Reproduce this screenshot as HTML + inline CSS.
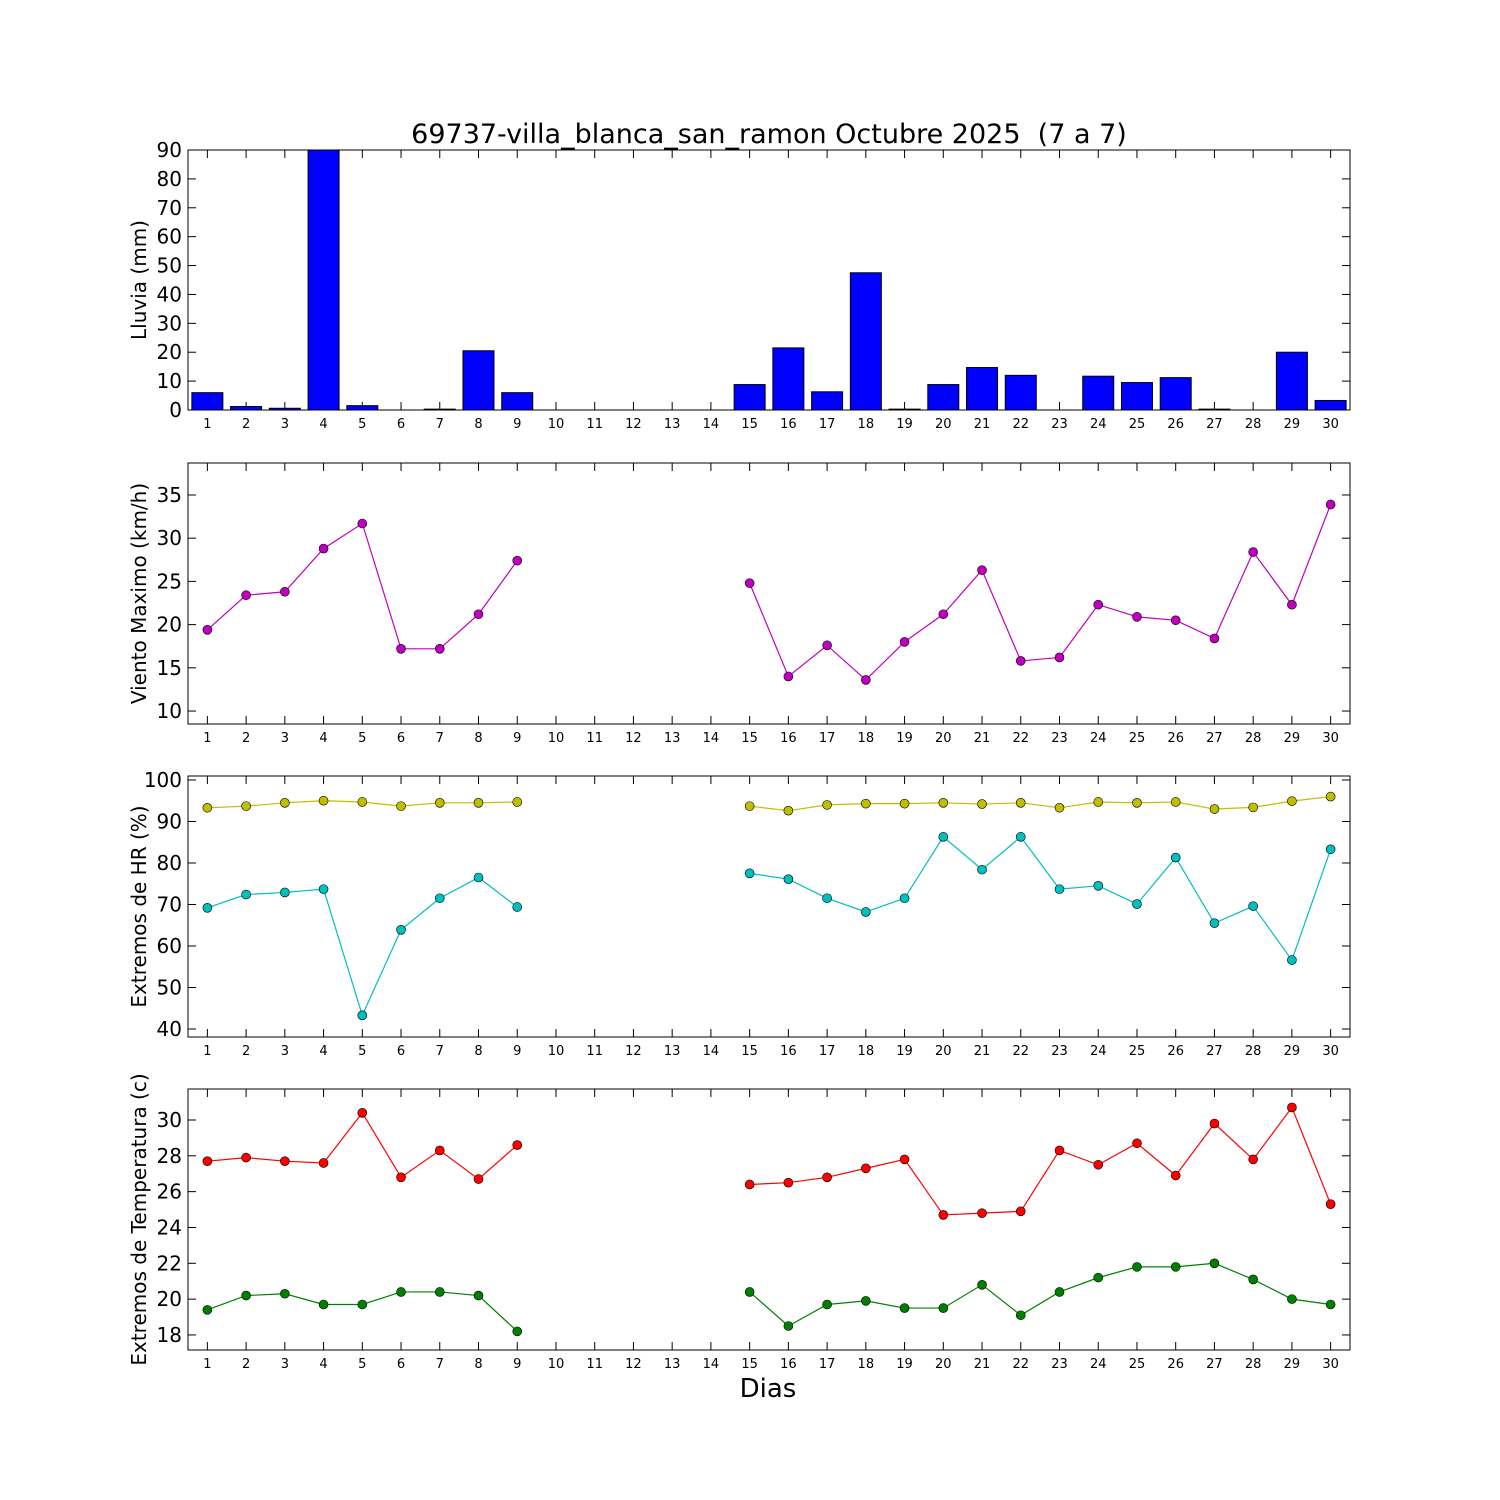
<!DOCTYPE html>
<html><head><meta charset="utf-8"><style>
html,body{margin:0;padding:0;background:#fff;}
svg{display:block;font-family:"DejaVu Sans","Liberation Sans",sans-serif;}
</style></head><body>
<svg id="chart" width="1500" height="1500" viewBox="0 0 1500 1500" xmlns="http://www.w3.org/2000/svg">
<rect width="1500" height="1500" fill="#fff"/>
<text x="769" y="143" font-size="27" text-anchor="middle" style="white-space:pre" xml:space="preserve">69737-villa_blanca_san_ramon Octubre 2025  (7 a 7)</text>
<text x="768" y="1397" font-size="26" text-anchor="middle">Dias</text>
</svg>
<script>
const days = [1,2,3,4,5,6,7,8,9,10,11,12,13,14,15,16,17,18,19,20,21,22,23,24,25,26,27,28,29,30];
const rain = [6,1.2,0.6,90,1.5,0,0.3,20.5,6,null,null,null,null,null,8.8,21.5,6.3,47.5,0.3,8.8,14.7,12,0,11.7,9.5,11.2,0.3,0,20,3.3];
const wind = [19.4,23.4,23.8,28.8,31.7,17.2,17.2,21.2,27.4,null,null,null,null,null,24.8,14,17.6,13.6,18,21.2,26.3,15.8,16.2,22.3,20.9,20.5,18.4,28.4,22.3,33.9];
const hrMax = [93.3,93.7,94.5,95,94.7,93.7,94.5,94.5,94.7,null,null,null,null,null,93.7,92.6,94,94.3,94.3,94.5,94.2,94.5,93.3,94.7,94.5,94.7,93,93.4,94.9,96];
const hrMin = [69.2,72.4,72.9,73.7,43.3,63.9,71.5,76.5,69.4,null,null,null,null,null,77.5,76.1,71.5,68.2,71.5,86.3,78.4,86.3,73.7,74.5,70.1,81.3,65.5,69.6,56.6,83.3];
const tMax = [27.7,27.9,27.7,27.6,30.4,26.8,28.3,26.7,28.6,null,null,null,null,null,26.4,26.5,26.8,27.3,27.8,24.7,24.8,24.9,28.3,27.5,28.7,26.9,29.8,27.8,30.7,25.3];
const tMin = [19.4,20.2,20.3,19.7,19.7,20.4,20.4,20.2,18.2,null,null,null,null,null,20.4,18.5,19.7,19.9,19.5,19.5,20.8,19.1,20.4,21.2,21.8,21.8,22,21.1,20,19.7];
const rainTicks = [0,10,20,30,40,50,60,70,80,90];
const windTicks = [10,15,20,25,30,35];
const hrTicks = [40,50,60,70,80,90,100];
const tTicks = [18,20,22,24,26,28,30];

const NS="http://www.w3.org/2000/svg";
const svg=document.getElementById('chart');
function mk(tag,attrs,parent){const e=document.createElementNS(NS,tag);for(const k in attrs)e.setAttribute(k,attrs[k]);(parent||svg).appendChild(e);return e;}
const L=188,R=1350;
function xs(d){return L+(d-0.5)*(R-L)/30;}

function panel(name,top,bot,ymin,ymax,ticks,label){
  const g=mk('g',{});
  
  
  const ys=v=>bot-(v-ymin)*(bot-top)/(ymax-ymin);
  ticks.forEach(t=>{
    const y=ys(t);
    mk('line',{x1:L,x2:L+8,y1:y,y2:y,stroke:'#000','stroke-width':1},g);
    mk('line',{x1:R,x2:R-8,y1:y,y2:y,stroke:'#000','stroke-width':1},g);
    const tx=mk('text',{x:L-6,y:y+7,'font-size':20,'text-anchor':'end'},g);
    
    
    tx.textContent=t;
  });
  days.forEach(d=>{
    const x=xs(d);
    mk('line',{x1:x,x2:x,y1:bot,y2:bot-8,stroke:'#000','stroke-width':1},g);
    mk('line',{x1:x,x2:x,y1:top,y2:top+8,stroke:'#000','stroke-width':1},g);
    const tx=mk('text',{x:x,y:bot+18,'font-size':13,'text-anchor':'middle'},g);
    
    
    tx.textContent=d;
  });
  const yl=mk('text',{x:0,y:0,'font-size':20,'text-anchor':'middle',transform:`translate(146,${(top+bot)/2}) rotate(-90)`},g);
  
  
  yl.textContent=label;
  return {g,ys,top,bot};
}
function frame(p,name){
  const r=mk('rect',{x:L,y:p.top,width:R-L,height:p.bot-p.top,fill:'none',stroke:'#000','stroke-width':1},p.g);
  
  
}
function series(p,vals,color,name){
  let segs=[],cur=[];
  vals.forEach((v,i)=>{if(v==null){if(cur.length)segs.push(cur);cur=[];}else cur.push([xs(days[i]),p.ys(v)]);});
  if(cur.length)segs.push(cur);
  segs.forEach(s=>{
    const pl=mk('polyline',{points:s.map(q=>q.join(',')).join(' '),fill:'none',stroke:color,'stroke-width':1.2},p.g);
    
    
  });
  vals.forEach((v,i)=>{
    if(v==null)return;
    const c=mk('circle',{cx:xs(days[i]),cy:p.ys(v),r:4.5,fill:color,stroke:'#000','stroke-width':0.6},p.g);
    
    
  });
}

const p1=panel('rain',150,410,0,90,rainTicks,'Lluvia (mm)');
const c1=mk('g',{},p1.g);
rain.forEach((v,i)=>{
  if(v==null)return;
  const x=xs(days[i]),w=0.8*(R-L)/30;
  const y=p1.ys(Math.min(v,90));
  const b=mk('rect',{x:x-w/2,y:y,width:w,height:p1.bot-y,fill:'#0000ff',stroke:'#000','stroke-width':1},c1);
  
  
});
frame(p1,'rain');

const p2=panel('wind',463,724,8.5,38.7,windTicks,'Viento Maximo (km/h)');
series(p2,wind,'#bf00bf','wind-max');
frame(p2,'wind');

const p3=panel('humidity',776,1037,38.07,100.96,hrTicks,'Extremos de HR (%)');
series(p3,hrMax,'#bfbf00','hr-max');
series(p3,hrMin,'#00bfbf','hr-min');
frame(p3,'humidity');

const p4=panel('temperature',1089,1350,17.16,31.73,tTicks,'Extremos de Temperatura (c)');
series(p4,tMax,'#ff0000','temp-max');
series(p4,tMin,'#008000','temp-min');
frame(p4,'temperature');
</script>
</body></html>
